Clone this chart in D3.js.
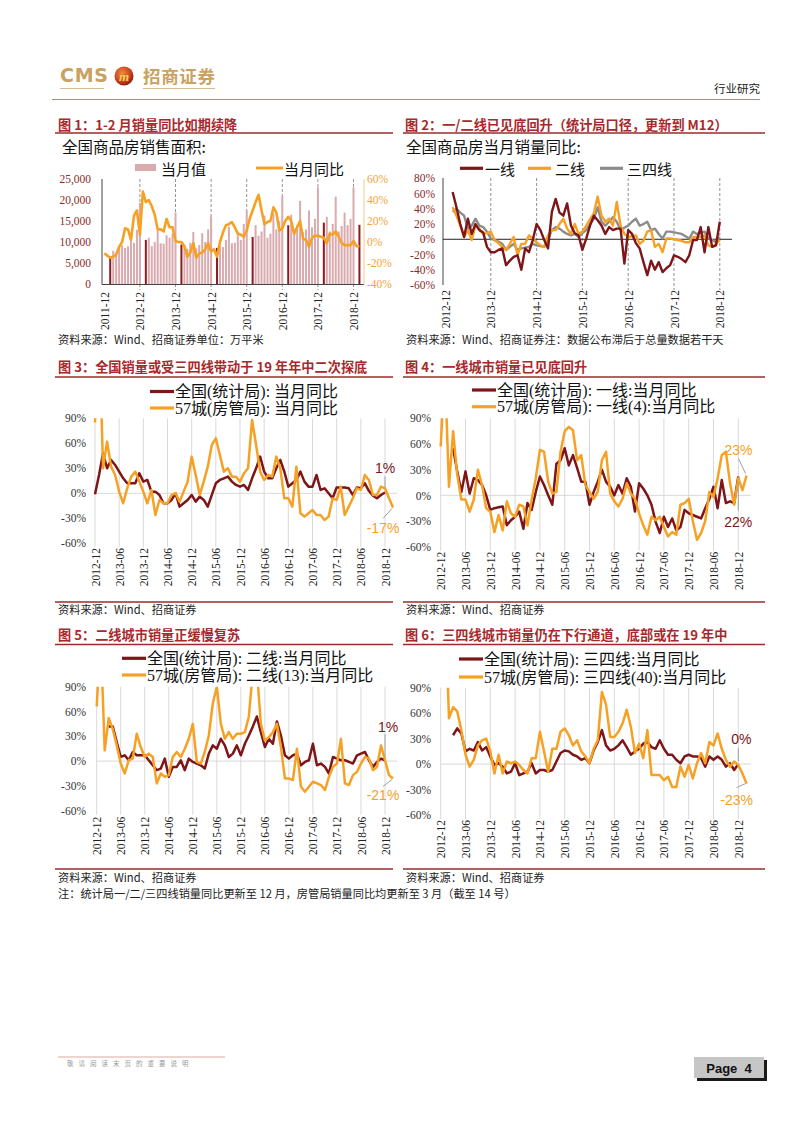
<!DOCTYPE html>
<html><head><meta charset="utf-8">
<script src="https://cdn.jsdelivr.net/npm/d3@7"></script>
<style>body{margin:0;background:#fff}svg{display:block}</style>
</head><body>
<svg id="page" width="802" height="1133"></svg>
<script>
// ================= DATA =================
// Chart 1: 全国商品房销售面积 (万平米) and 当月同比 (%), monthly from 2011-12
const c1Start = "2011-12";
const c1Area = [null,null,6260,7900,7500,8600,9200,8600,9000,12000,9800,12900,19300,
  null,10500,11000,9000,10000,12800,9700,9600,11600,11000,12000,17000,
  null,9400,9000,8400,9800,12400,8500,9300,12100,10000,13000,16000,
  null,8600,9000,8800,10500,13600,9700,9800,12200,10500,14300,17500,
  null,11200,14000,11500,12500,16300,11000,12000,16800,13000,15000,21000,
  null,14000,16500,12500,14000,19800,12300,13000,17500,13500,15500,23000,
  null,14600,16000,12500,14300,20800,12500,13800,17000,14000,15500,23000,
  null,14100];
const c1Yoy = [-10.8,-13,-15,-14,-12,-4.5,0,13,12,2,25,30,7,48,38,40,34,26,12,12,
  10,22,14,14,1,0,0,-4,-14,-10,-1,-15,-11,-10,-7,-1,-9,-7,-14,0,
  9,16,17,19,14,8,7,5,11,22,30,38,45,30,17,19,20,33,28,11,
  13,20,24,20,8,14,20,3,2,-4.5,4,6,6,5,4,-1,8,7,10,5,
  -1,-3,-3,-3,1,-4,-4];
const c1Ticks = ["2011-12","2012-12","2013-12","2014-12","2015-12","2016-12","2017-12","2018-12"];
const c1LeftTicks = [0,5000,10000,15000,20000,25000];
const c1RightTicks = [-40,-20,0,20,40,60];

// Chart 2: 全国商品房当月销量同比 (%), from 2013-02
const c2Start = "2013-02";
const c2Tier1 = [62,42,20,3,27,7,20,12,9,-10,-17,-17,-14,-12,-34,-28,-23,-21,-40,-12,
  -17,-1,20,12,-1,-12,36,53,35,31,47,18,8,5,-14,1,18,31,25,18,
  7,16,12,14,14,-32,12,7,-5,-12,-30,-47,-28,-40,-30,-43,-38,-34,-21,-23,
  -26,-30,-21,-1,-1,16,-17,16,-10,-8,23];
const c2Tier2 = [42,31,18,3,12,-1,18,14,7,8,10,-1,-5,-10,-14,-6,3,-21,-6,-6,
  5,1,-4,-8,-10,5,12,12,20,27,14,7,20,7,10,18,26,34,56,31,
  23,27,18,49,18,7,3,4,5,-6,-2,10,12,-10,-6,-17,1,1,0,-1,
  -2,-4,-4,3,3,3,5,-8,-10,-6,-1];
const c2Tier34 = [36,40,35,31,14,18,27,18,16,10,1,-1,-3,-6,-14,-10,-6,-14,-12,-11,
  -10,-6,-8,-9,-10,0,12,16,14,10,7,5,7,3,8,12,20,27,42,23,
  18,23,29,23,12,15,18,23,27,18,20,23,12,14,7,1,10,10,9,8,
  7,4,1,10,7,8,10,1,-1,-4,3];
const c2Ticks = ["2012-12","2013-12","2014-12","2015-12","2016-12","2017-12","2018-12"];
const c2YTicks = [-60,-40,-20,0,20,40,60,80];
const c2Names = ["一线","二线","三四线"];

// Charts 3-6: axis months & ticks
const lcTicks = ["2012-12","2013-06","2013-12","2014-06","2014-12","2015-06","2015-12",
  "2016-06","2016-12","2017-06","2017-12","2018-06","2018-12"];
const lcYTicks = [-60,-30,0,30,60,90];

// Chart 3
const c3NatStart = "2012-12";
const c3Nat = [-1,22,48,30,40,34,26,18,12,12,12,24,14,16,2,2,-2,-12,-12,-8,
  0,-16,-12,-8,-2,-10,-4,-8,-16,-2,12,16,18,20,14,10,8,10,4,18,
  30,44,26,18,18,30,40,26,8,12,16,26,14,8,8,22,4,6,0,-6,
  7,7,7,6,-2,7,6,12,3,-3,-6,-2,1];
const c3CityStart = "2012-12";
const c3City = [85,200,30,62,32,22,2,-12,6,20,26,14,2,-12,4,-26,-8,-12,-12,-2,
  0,-10,2,14,44,22,-2,14,32,58,66,46,26,30,20,20,14,24,30,88,
  58,26,16,22,20,44,30,-6,-6,-16,32,-24,-28,-24,-20,-26,-26,-32,-28,-6,
  -8,8,-26,-16,-6,6,4,22,16,-2,-2,8,6,-6,-17];
const c3Legend = ["全国(统计局): 当月同比","57城(房管局): 当月同比"];

// Chart 4
const c4NatStart = "2013-03";
const c4Nat = [55,28,4,28,2,20,18,12,0,-17,-15,-14,-13,-35,-29,-25,-19,-39,-9,-17,
  4,22,12,0,-11,37,41,55,35,47,32,16,16,-11,4,16,30,16,10,0,
  12,2,20,10,-19,14,8,0,-11,-31,-44,-25,-37,-27,-41,-37,-17,-21,-23,-25,
  -27,-15,-4,10,-15,18,-9,-7,-9,22];
const c4CityStart = "2012-12";
const c4City = [57,150,10,75,24,-5,-5,-19,-5,30,12,-15,-19,-43,-23,-41,-7,-21,-25,-11,
  -13,-35,-5,20,53,51,16,2,4,51,75,80,76,41,47,12,4,-4,4,41,
  51,2,-7,-13,-4,14,2,-4,-21,-35,-46,-25,-29,-25,-37,-48,-43,-46,-11,-9,
  -4,-30,-52,-44,-30,4,-2,20,47,51,14,-11,20,6,23];
const c4Legend = ["全国(统计局): 一线:当月同比","57城(房管局): 一线(4):当月同比"];

// Chart 5
const c5NatStart = "2013-03";
const c5Nat = [42,42,23,5,7,1,11,7,7,7,1,-5,-11,-9,3,-19,-7,-7,1,-11,
  3,-1,-3,-5,-9,9,19,15,27,19,5,9,19,7,21,31,42,54,35,17,
  27,21,48,31,7,3,7,9,-5,-1,1,21,-5,-3,-7,-15,5,3,1,1,
  -1,-3,7,9,11,1,-7,-1,3,1];
const c5CityStart = "2012-12";
const c5City = [66,150,13,52,39,19,-3,-15,1,3,33,17,5,9,5,-27,-15,-19,-17,5,
  11,5,15,27,45,-1,-3,11,31,70,90,45,27,35,27,33,33,35,54,110,
  110,45,25,29,35,45,17,-21,-21,-23,15,-31,-37,-31,-25,-27,-29,-35,-19,-7,
  -3,27,-27,-29,-17,-13,-3,5,3,-11,-7,19,1,-17,-21];
const c5Legend = ["全国(统计局): 二线:当月同比","57城(房管局): 二线(13):当月同比"];

// Chart 6
const c6NatStart = "2013-03";
const c6Nat = [34,42,36,15,18,16,26,16,20,9,-1,1,-3,-11,-9,1,-13,-11,-9,1,
  -11,-7,-7,-9,-7,3,13,16,15,11,9,5,7,1,16,26,40,22,16,18,
  22,28,20,11,15,18,24,26,20,18,28,18,11,11,5,1,9,11,9,9,
  7,-3,9,5,9,5,-3,1,-7,0];
const c6CityStart = "2013-01";
const c6City = [200,54,67,62,40,11,-3,5,22,28,30,15,-11,11,-11,3,1,3,-1,-7,
  -11,7,7,38,15,-9,18,18,38,42,34,22,28,15,9,1,18,28,85,70,
  32,32,38,48,64,44,13,24,7,40,-13,-13,-13,-19,-15,-27,-27,-3,-15,-1,
  -17,1,13,1,26,22,36,18,5,-3,3,-1,-11,-23];
const c6Legend = ["全国(统计局): 三四线:当月同比","57城(房管局): 三四线(40):当月同比"];

// Texts
const titles = ["图 1：1-2 月销量同比如期续降","图 2：一/二线已见底回升（统计局口径，更新到 M12）",
  "图 3：全国销量或受三四线带动于 19 年年中二次探底","图 4：一线城市销量已见底回升",
  "图 5：二线城市销量正缓慢复苏","图 6：三四线城市销量仍在下行通道，底部或在 19 年中"];
const sources = ["资料来源：Wind、招商证券单位：万平米","资料来源：Wind、招商证券注：数据公布滞后于总量数据若干天",
  "资料来源：Wind、招商证券","资料来源：Wind、招商证券","资料来源：Wind、招商证券","资料来源：Wind、招商证券"];
const noteText = "注：统计局一/二/三四线销量同比更新至 12 月，房管局销量同比均更新至 3 月（截至 14 号）";

// ================= STYLE =================
const DARK = "#7E1518", ORANGE = "#F6A124", GREY = "#8C8C8C", PINK = "#D9ABAE";
const TITLEC = "#A8282B", RULEC = "#9E2A2B";
const SERIF = "'Liberation Serif','Noto Sans CJK SC',serif";
const CJK = "'Noto Sans CJK SC','Liberation Sans',sans-serif";

function monthDiff(a, b) {
  const [ya, ma] = a.split("-").map(Number), [yb, mb] = b.split("-").map(Number);
  return (yb - ya) * 12 + (mb - ma);
}

const svg = d3.select("#page");
svg.append("rect").attr("width", 802).attr("height", 1133).attr("fill", "#fff");

// ================= HEADER / FOOTER =================
(function header() {
  const g = svg.append("g");
  const defs = svg.append("defs");
  const rg = defs.append("radialGradient").attr("id", "logoG").attr("cx", "40%").attr("cy", "35%").attr("r", "65%");
  rg.append("stop").attr("offset", "0%").attr("stop-color", "#F08A3A");
  rg.append("stop").attr("offset", "70%").attr("stop-color", "#C8401C");
  rg.append("stop").attr("offset", "100%").attr("stop-color", "#8A2210");
  g.append("text").attr("x", 60).attr("y", 82).attr("font-family", "'DejaVu Sans',sans-serif")
    .attr("font-weight", "bold").attr("font-size", 19).attr("textLength", 48).attr("fill", "#C9A262").text("CMS");
  g.append("circle").attr("cx", 124).attr("cy", 76).attr("r", 9.5).attr("fill", "url(#logoG)");
  g.append("text").attr("x", 124).attr("y", 80.5).attr("text-anchor", "middle").attr("font-family", "'Liberation Serif',serif")
    .attr("font-style", "italic").attr("font-weight", "bold").attr("font-size", 13).attr("fill", "#F6CF5A").text("m");
  g.append("text").attr("x", 143).attr("y", 83).attr("font-family", CJK).attr("font-weight", "bold")
    .attr("font-size", 17.5).attr("textLength", 72).attr("fill", "#C9A262").text("招商证券");
  g.append("line").attr("x1", 60).attr("x2", 104).attr("y1", 88.5).attr("y2", 88.5).attr("stroke", "#D6BC8C").attr("stroke-width", 1.2);
  g.append("line").attr("x1", 143).attr("x2", 215).attr("y1", 88.5).attr("y2", 88.5).attr("stroke", "#D6BC8C").attr("stroke-width", 1.2);
  g.append("text").attr("x", 760).attr("y", 93).attr("text-anchor", "end").attr("font-family", CJK)
    .attr("font-size", 11.5).attr("fill", "#222").text("行业研究");
  g.append("line").attr("x1", 52).attr("x2", 760).attr("y1", 99.5).attr("y2", 99.5).attr("stroke", "#A68E84").attr("stroke-width", 1);
  // footer
  g.append("line").attr("x1", 58).attr("x2", 225).attr("y1", 1057).attr("y2", 1057).attr("stroke", "#DDA99E").attr("stroke-width", 1);
  g.append("text").attr("x", 67).attr("y", 1066).attr("font-family", CJK).attr("font-size", 6.5)
    .attr("letter-spacing", 5).attr("fill", "#9a9a9a").text("敬请阅读末页的重要说明");
  g.append("rect").attr("x", 697).attr("y", 1060).attr("width", 70).attr("height", 21).attr("fill", "#1a1a1a");
  g.append("rect").attr("x", 694).attr("y", 1057).attr("width", 70).attr("height", 21).attr("fill", "#C6C6C6");
  g.append("text").attr("x", 729).attr("y", 1073).attr("text-anchor", "middle").attr("font-family", "'Liberation Sans',Arial,sans-serif")
    .attr("font-weight", "bold").attr("font-size", 13).attr("fill", "#111").attr("xml:space", "preserve").text("Page  4");
})();

// ================= TITLES, RULES, SOURCES =================
const panels = [
  {x: 58, tx: 55, tw: 338, ty: 130, ry: 133, sy: 344, by: null},
  {x: 405, tx: 403, tw: 362, ty: 130, ry: 133, sy: 344, by: null},
  {x: 58, tx: 55, tw: 338, ty: 372, ry: 377, sy: 614, by: 602},
  {x: 405, tx: 403, tw: 362, ty: 372, ry: 377, sy: 614, by: 602},
  {x: 58, tx: 55, tw: 338, ty: 640, ry: 644.5, sy: 882, by: 869},
  {x: 405, tx: 403, tw: 362, ty: 640, ry: 644.5, sy: 882, by: 869}
];
panels.forEach((p, i) => {
  svg.append("text").attr("x", p.x).attr("y", p.ty).attr("font-family", CJK).attr("font-weight", "bold")
    .attr("font-size", 13.2).attr("fill", TITLEC).text(titles[i]);
  svg.append("line").attr("x1", p.tx).attr("x2", p.tx + p.tw).attr("y1", p.ry).attr("y2", p.ry)
    .attr("stroke", RULEC).attr("stroke-width", 1.6);
  if (p.by) svg.append("line").attr("x1", p.tx).attr("x2", p.tx + p.tw).attr("y1", p.by).attr("y2", p.by)
    .attr("stroke", RULEC).attr("stroke-width", 1.4);
  svg.append("text").attr("x", p.tx + 3).attr("y", p.sy).attr("font-family", CJK).attr("font-size", 11.2)
    .attr("fill", "#222").text(sources[i]);
});
svg.append("text").attr("x", 58).attr("y", 898).attr("font-family", CJK).attr("font-size", 11.2)
  .attr("fill", "#222").text(noteText);

// ================= CHART 1 =================
(function chart1() {
  const g = svg.append("g");
  const n = c1Area.length;
  const months = d3.range(n).map(i => { const [y, m] = c1Start.split("-").map(Number); const t = m - 1 + i; return `${y + Math.floor(t / 12)}-${String(t % 12 + 1).padStart(2, "0")}`; });
  const x = d3.scaleLinear().domain([0, 84]).range([104.3, 353.5]);
  const yL = d3.scaleLinear().domain([0, 25000]).range([284, 179]);
  const yR = d3.scaleLinear().domain([-40, 60]).range([284, 179]);
  // subtitle & legend
  g.append("text").attr("x", 62).attr("y", 152.5).attr("font-family", CJK).attr("font-size", 15.5).attr("fill", "#111").text("全国商品房销售面积:");
  g.append("rect").attr("x", 135).attr("y", 164).attr("width", 21).attr("height", 7).attr("fill", PINK);
  g.append("text").attr("x", 161).attr("y", 174.5).attr("font-family", CJK).attr("font-size", 15).attr("fill", "#111").text("当月值");
  g.append("line").attr("x1", 256).attr("x2", 283).attr("y1", 168).attr("y2", 168).attr("stroke", ORANGE).attr("stroke-width", 3);
  g.append("text").attr("x", 284).attr("y", 174.5).attr("font-family", CJK).attr("font-size", 15).attr("fill", "#111").text("当月同比");
  // dashed year lines
  g.selectAll(".dl").data(c1Ticks.slice(1)).join("line")
    .attr("x1", d => x(monthDiff(c1Start, d))).attr("x2", d => x(monthDiff(c1Start, d)))
    .attr("y1", 179).attr("y2", 290).attr("stroke", "#777").attr("stroke-width", 0.8).attr("stroke-dasharray", "3,2");
  // bars
  g.selectAll(".bar").data(c1Area.map((v, i) => ({v, i, m: months[i]})).filter(d => d.v != null)).join("rect")
    .attr("x", d => x(d.i) - 1).attr("width", 2)
    .attr("y", d => yL(d.v)).attr("height", d => yL(0) - yL(d.v))
    .attr("fill", d => d.m.endsWith("-02") ? "#8B1A1E" : PINK);
  // axes lines
  g.append("line").attr("x1", 102).attr("x2", 364).attr("y1", 284.5).attr("y2", 284.5).attr("stroke", "#444").attr("stroke-width", 1);
  g.append("line").attr("x1", 102).attr("x2", 102).attr("y1", 179).attr("y2", 284.5).attr("stroke", "#444").attr("stroke-width", 1);
  g.append("line").attr("x1", 364).attr("x2", 364).attr("y1", 179).attr("y2", 284.5).attr("stroke", "#F3C98A").attr("stroke-width", 1);
  // line
  const line = d3.line().x((d, i) => x(i)).y(d => yR(d));
  g.append("path").datum(c1Yoy).attr("d", line).attr("fill", "none").attr("stroke", ORANGE)
    .attr("stroke-width", 2.6).attr("stroke-linejoin", "round");
  // left axis labels
  const la = g.append("g").attr("transform", "translate(91,0)")
    .call(d3.axisLeft(yL).tickValues(c1LeftTicks).tickFormat(d3.format(",")).tickSize(0).tickPadding(0));
  la.select(".domain").remove();
  la.attr("font-family", SERIF).attr("font-size", 11.5);
  la.selectAll("text").attr("fill", "#8E2A2A");
  const ra = g.append("g").attr("transform", "translate(367,0)")
    .call(d3.axisRight(yR).tickValues(c1RightTicks).tickFormat(d => d + "%").tickSize(0).tickPadding(0));
  ra.select(".domain").remove();
  ra.attr("font-family", SERIF).attr("font-size", 11.5);
  ra.selectAll("text").attr("fill", "#F2A43A");
  // x labels
  const xa = g.append("g").attr("transform", "translate(0,292)")
    .call(d3.axisBottom(x).tickValues(c1Ticks.map(t => monthDiff(c1Start, t))).tickFormat((d, i) => c1Ticks[i]).tickSize(0));
  xa.select(".domain").remove();
  xa.attr("font-family", SERIF).attr("font-size", 11.5);
  xa.selectAll("text").attr("x", 0).attr("y", 0).attr("dy", "0.35em").attr("transform", "rotate(-90)")
    .attr("text-anchor", "end").attr("fill", "#222");
})();

// ================= CHART 2 =================
(function chart2() {
  const g = svg.append("g");
  const axisStart = "2012-12";
  const off = monthDiff(axisStart, c2Start);
  const x = d3.scaleLinear().domain([0, 72]).range([445, 719.8]);
  const y = d3.scaleLinear().domain([-60, 80]).range([285, 178.3]);
  g.append("text").attr("x", 406).attr("y", 152.5).attr("font-family", CJK).attr("font-size", 15.5).attr("fill", "#111").text("全国商品房当月销量同比:");
  const cols = [DARK, ORANGE, GREY];
  const legX = [[460, 485], [528, 555], [600, 627]];
  c2Names.forEach((nm, i) => {
    g.append("line").attr("x1", legX[i][0]).attr("x2", legX[i][0] + 23).attr("y1", 168.3).attr("y2", 168.3).attr("stroke", cols[i]).attr("stroke-width", 3.2);
    g.append("text").attr("x", legX[i][1]).attr("y", 174.5).attr("font-family", CJK).attr("font-size", 15).attr("fill", "#111").text(nm);
  });
  g.selectAll(".dl").data(c2Ticks).join("line")
    .attr("x1", d => x(monthDiff(axisStart, d))).attr("x2", d => x(monthDiff(axisStart, d)))
    .attr("y1", 178).attr("y2", 290).attr("stroke", "#777").attr("stroke-width", 0.8).attr("stroke-dasharray", "3,2")
    .attr("display", (d, i) => i === 0 ? "none" : null);
  g.append("line").attr("x1", 443).attr("x2", 443).attr("y1", 178).attr("y2", 285).attr("stroke", "#444").attr("stroke-width", 1);
  g.append("line").attr("x1", 443).attr("x2", 732).attr("y1", y(0)).attr("y2", y(0)).attr("stroke", "#222").attr("stroke-width", 1);
  const line = d3.line().x((d, i) => x(i + off)).y(d => y(d));
  [[c2Tier34, GREY], [c2Tier2, ORANGE], [c2Tier1, DARK]].forEach(([s, c]) => {
    g.append("path").datum(s).attr("d", line).attr("fill", "none").attr("stroke", c).attr("stroke-width", 2.4).attr("stroke-linejoin", "round");
  });
  const ya = g.append("g").attr("transform", "translate(435,0)")
    .call(d3.axisLeft(y).tickValues(c2YTicks).tickFormat(d => d + "%").tickSize(0).tickPadding(0));
  ya.select(".domain").remove();
  ya.attr("font-family", SERIF).attr("font-size", 11.5);
  ya.selectAll("text").attr("fill", "#8E2A2A");
  const xa = g.append("g").attr("transform", "translate(0,290)")
    .call(d3.axisBottom(x).tickValues(c2Ticks.map(t => monthDiff(axisStart, t))).tickFormat((d, i) => c2Ticks[i]).tickSize(0));
  xa.select(".domain").remove();
  xa.attr("font-family", SERIF).attr("font-size", 11.5);
  xa.selectAll("text").attr("x", 0).attr("y", 0).attr("dy", "0.35em").attr("transform", "rotate(-90)")
    .attr("text-anchor", "end").attr("fill", "#222");
})();

// ================= CHARTS 3-6 =================
let clipId = 0;
function lineChart(o) {
  const g = svg.append("g");
  const axisStart = "2012-12";
  const x = d3.scaleLinear().domain([0, 72]).range(o.xr);
  const y = d3.scaleLinear().domain([-60, 90]).range(o.yr);
  const tickIdx = lcTicks.map(t => monthDiff(axisStart, t));
  // grid
  g.selectAll(".vg").data(tickIdx).join("line").attr("x1", d => x(d)).attr("x2", d => x(d))
    .attr("y1", y(90)).attr("y2", y(-60) + 4).attr("stroke", "#D9D9D9").attr("stroke-width", 1);
  g.append("line").attr("x1", x(0)).attr("x2", x(75)).attr("y1", y(0)).attr("y2", y(0)).attr("stroke", "#D9D9D9").attr("stroke-width", 1);
  // axes
  const ya = g.append("g").attr("transform", `translate(${o.labX},0)`)
    .call(d3.axisLeft(y).tickValues(lcYTicks).tickFormat(d => d + "%").tickSize(0).tickPadding(0));
  ya.select(".domain").remove();
  ya.attr("font-family", SERIF).attr("font-size", 11.5);
  ya.selectAll("text").attr("fill", "#333");
  const xa = g.append("g").attr("transform", `translate(0,${o.labY})`)
    .call(d3.axisBottom(x).tickValues(tickIdx).tickFormat((d, i) => lcTicks[i]).tickSize(0));
  xa.select(".domain").remove();
  xa.attr("font-family", SERIF).attr("font-size", 11.5);
  xa.selectAll("text").attr("x", 0).attr("y", 0).attr("dy", "0.35em").attr("transform", "rotate(-90)")
    .attr("text-anchor", "end").attr("fill", "#222");
  // clip
  const id = "clip" + (clipId++);
  svg.append("clipPath").attr("id", id).append("rect")
    .attr("x", x(0) - 2).attr("y", y(90)).attr("width", x(76) - x(0) + 4).attr("height", y(-60) - y(90) + 2);
  const lg = g.append("g").attr("clip-path", `url(#${id})`);
  const mk = start => d3.line().x((d, i) => x(i + monthDiff(axisStart, start))).y(d => y(d));
  lg.append("path").datum(o.nat).attr("d", mk(o.natStart)).attr("fill", "none").attr("stroke", DARK)
    .attr("stroke-width", 2.5).attr("stroke-linejoin", "round");
  lg.append("path").datum(o.city).attr("d", mk(o.cityStart)).attr("fill", "none").attr("stroke", ORANGE)
    .attr("stroke-width", 2.5).attr("stroke-linejoin", "round");
  // legend
  [[DARK, o.legend[0], o.legY[0]], [ORANGE, o.legend[1], o.legY[1]]].forEach(([c, t, ly]) => {
    g.append("line").attr("x1", o.legX).attr("x2", o.legX + 24).attr("y1", ly).attr("y2", ly).attr("stroke", c).attr("stroke-width", 3.2);
    g.append("text").attr("x", o.legX + 25).attr("y", ly + 5.5).attr("font-family", SERIF).attr("font-size", 16).attr("fill", "#111").text(t);
  });
  // annotations
  const natLastI = o.nat.length - 1 + monthDiff(axisStart, o.natStart);
  const cityLastI = o.city.length - 1 + monthDiff(axisStart, o.cityStart);
  const np = [x(natLastI), y(o.nat[o.nat.length - 1])];
  const cp = [x(cityLastI), y(o.city[o.city.length - 1])];
  const an = o.ann;
  g.append("line").attr("x1", np[0] + an.nl[0]).attr("y1", np[1] + an.nl[1]).attr("x2", np[0] + an.nl[2]).attr("y2", np[1] + an.nl[3])
    .attr("stroke", "#A0A0A0").attr("stroke-width", 1);
  g.append("line").attr("x1", cp[0] + an.cl[0]).attr("y1", cp[1] + an.cl[1]).attr("x2", cp[0] + an.cl[2]).attr("y2", cp[1] + an.cl[3])
    .attr("stroke", "#A0A0A0").attr("stroke-width", 1);
  g.append("text").attr("x", np[0] + an.nt[0]).attr("y", np[1] + an.nt[1]).attr("text-anchor", "middle")
    .attr("font-family", "'Liberation Sans',Arial,sans-serif").attr("font-size", 14).attr("fill", DARK)
    .text(Math.round(o.nat[o.nat.length - 1]) + "%");
  g.append("text").attr("x", cp[0] + an.ct[0]).attr("y", cp[1] + an.ct[1]).attr("text-anchor", "middle")
    .attr("font-family", "'Liberation Sans',Arial,sans-serif").attr("font-size", 14).attr("fill", ORANGE)
    .text(Math.round(o.city[o.city.length - 1]) + "%");
}

lineChart({xr: [95, 385], yr: [543.3, 418.3], labX: 86, labY: 548, legX: 150, legY: [391.5, 408],
  nat: c3Nat, natStart: c3NatStart, city: c3City, cityStart: c3CityStart, legend: c3Legend,
  ann: {nt: [0, -19], nl: [0, -16, 0, -4], ct: [-10, 26], cl: [-10, 11, -1, 1]}});
lineChart({xr: [440.7, 738.3], yr: [546.7, 418.3], labX: 431, labY: 551.7, legX: 472, legY: [390, 406.7],
  nat: c4Nat, natStart: c4NatStart, city: c4City, cityStart: c4CityStart, legend: c4Legend,
  ann: {nt: [0, 50], nl: [0, 6, 0, 34], ct: [-8, -21], cl: [-8, -17, -1, -2]}});
lineChart({xr: [96.7, 385], yr: [810.7, 686.7], labX: 86, labY: 816.7, legX: 122, legY: [658.3, 675],
  nat: c5Nat, natStart: c5NatStart, city: c5City, cityStart: c5CityStart, legend: c5Legend,
  ann: {nt: [3, -28], nl: [0, -26, 0, -3], ct: [-10, 22], cl: [-10, 8, -1, 1]}});
lineChart({xr: [440.7, 738.3], yr: [815, 687.7], labX: 431, labY: 820, legX: 459, legY: [659, 677],
  nat: c6Nat, natStart: c6NatStart, city: c6City, cityStart: c6CityStart, legend: c6Legend,
  ann: {nt: [3, -20], nl: [0, -16, 0, -3], ct: [-10, 21], cl: [-10, 4, -1, 0]}});
</script>
</body></html>
